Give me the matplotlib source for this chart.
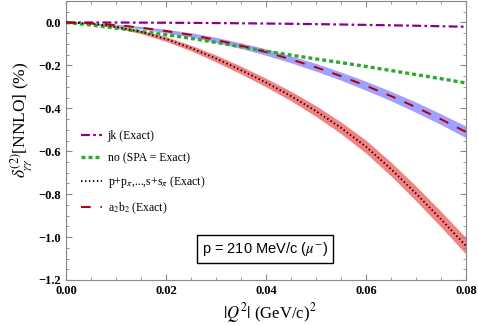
import matplotlib
matplotlib.use("Agg")
import matplotlib.pyplot as plt
from matplotlib.ticker import MultipleLocator
import numpy as np

plt.rcParams['font.family'] = ['Liberation Serif', 'DejaVu Serif']
plt.rcParams['mathtext.fontset'] = 'stix'

# |Q^2| grid (GeV/c)^2
q2 = [0.0, 0.005, 0.01, 0.015, 0.02, 0.025, 0.03, 0.035, 0.04,
      0.045, 0.05, 0.055, 0.06, 0.065, 0.07, 0.075, 0.08]

# jk (Exact)
jk = [0.0, -0.0001, -0.0003, -0.0007, -0.0013, -0.002, -0.0028, -0.0038, -0.005,
      -0.0063, -0.0078, -0.0095, -0.0113, -0.0132, -0.0153, -0.0176, -0.020]

# no (SPA = Exact)
no = [0.0, -0.012, -0.026, -0.042, -0.057, -0.074, -0.093, -0.113, -0.134,
      -0.152, -0.170, -0.187, -0.205, -0.224, -0.243, -0.262, -0.282]

# p+p_pi,...,s+s_pi (Exact) centre and band half-width
pp = [0.0, -0.005, -0.020, -0.044, -0.077, -0.119, -0.168, -0.222, -0.280,
      -0.343, -0.413, -0.491, -0.579, -0.683, -0.797, -0.917, -1.041]
pp_err = [0.0, 0.003, 0.006, 0.008, 0.011, 0.013, 0.016, 0.018, 0.020,
          0.022, 0.025, 0.027, 0.030, 0.032, 0.034, 0.036, 0.038]

# a2b2 (Exact) centre and band half-width
ab = [0.0, -0.004, -0.012, -0.024, -0.040, -0.058, -0.081, -0.108, -0.138,
      -0.172, -0.209, -0.250, -0.295, -0.343, -0.395, -0.451, -0.510]
ab_err = [0.0, 0.002, 0.004, 0.006, 0.008, 0.010, 0.012, 0.013, 0.015,
          0.016, 0.018, 0.019, 0.021, 0.022, 0.024, 0.025, 0.027]

x = np.array(q2)
pp_a = np.array(pp); pp_e = np.array(pp_err)
ab_a = np.array(ab); ab_e = np.array(ab_err)

fig = plt.figure(figsize=(4.78, 3.25), dpi=100)
ax = fig.add_axes([66/478, 1 - 280/325, 400/478, 279/325])

ax.fill_between(x, pp_a - pp_e, pp_a + pp_e, color='#f58080', lw=0, zorder=1)
ax.fill_between(x, ab_a - ab_e, ab_a + ab_e, color='#a0a0ff', lw=0, zorder=1)

ax.plot(x, jk, color='#8b008b', lw=1.6, dashes=(4, 1.5, 1.2, 1.5), label='jk (Exact)', zorder=3)
ax.plot(x, no, color='#2ea82e', lw=2.4, dashes=(1.2, 0.9), label='no (SPA = Exact)', zorder=3)
ax.plot(x, pp, color='black', lw=1.3, dashes=(0.8, 1.4), label=r'p+p$_\pi$,...,s+s$_\pi$ (Exact)', zorder=4)
ax.plot(x, ab, color='#b00000', lw=1.4, dashes=(5, 5), label=r'a$_2$b$_2$ (Exact)', zorder=4)

ax.set_xlim(0, 0.08)
ax.set_ylim(-1.2, 0.1)
ax.xaxis.set_major_locator(MultipleLocator(0.02))
ax.xaxis.set_minor_locator(MultipleLocator(0.005))
ax.yaxis.set_major_locator(MultipleLocator(0.2))
ax.yaxis.set_minor_locator(MultipleLocator(0.05))
ax.tick_params(which='both', direction='in', top=True, right=True, color='#888888')
ax.tick_params(which='major', length=4)
ax.tick_params(which='minor', length=2)
for s in ax.spines.values():
    s.set_color('#888888')

ax.set_xticks([0.0, 0.02, 0.04, 0.06, 0.08])
ax.set_xticklabels(['0.00', '0.02', '0.04', '0.06', '0.08'], fontweight='bold', fontsize=9)
yt = [-1.2, -1.0, -0.8, -0.6, -0.4, -0.2, 0.0]
ax.set_yticks(yt)
ax.set_yticklabels(['\u22121.2', '\u22121.0', '\u22120.8', '\u22120.6', '\u22120.4', '\u22120.2', '0.0'],
                   fontweight='bold', fontsize=9)

ax.set_xlabel(r'$|Q^2|$ (GeV/c)$^2$', fontsize=12)
ax.xaxis.set_label_coords(0.51, -0.075)
ax.set_ylabel(r'$\delta^{(2)}_{\gamma\gamma}$[NNLO] (%)', fontsize=12.5)
ax.yaxis.set_label_coords(-0.08, 0.573)

leg = ax.legend(loc='upper left', bbox_to_anchor=(0.01, 0.575), frameon=False, fontsize=8.5,
                handlelength=1.8, handletextpad=0.5, labelspacing=0.85)

ax.text(0.4975, 0.112, r'p = 210 MeV/c ($\mu^{-}$)', transform=ax.transAxes,
        ha='center', va='center', fontsize=10.5, family='Liberation Sans',
        bbox=dict(boxstyle='square,pad=0.35', fc='white', ec='black', lw=1.0))

fig.savefig('out.png', dpi=100)
